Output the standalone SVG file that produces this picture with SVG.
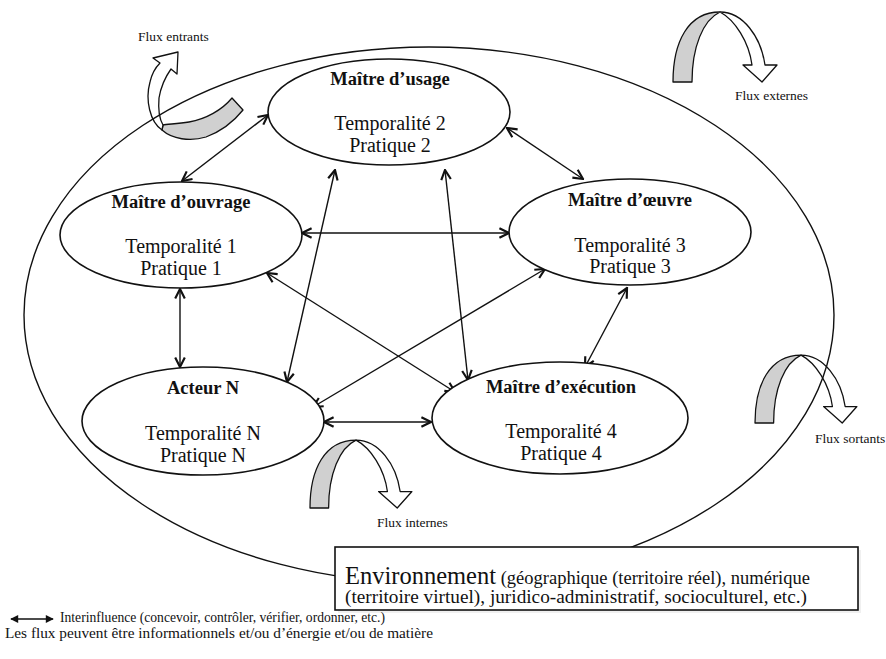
<svg xmlns="http://www.w3.org/2000/svg" xmlns:xlink="http://www.w3.org/1999/xlink" width="886" height="659" viewBox="0 0 886 659">
<defs>
<style>
text{font-family:"Liberation Serif","Times New Roman",serif;fill:#111}
.t{font-size:18.5px;font-weight:bold;text-anchor:middle}
.b{font-size:20px;text-anchor:middle}
.fl{font-size:13.5px}
.node{fill:#fff;stroke:#111;stroke-width:1.6}
.con{stroke:#111;stroke-width:1.4;fill:none;marker-start:url(#ah);marker-end:url(#ah)}
.fw{fill:#fff;stroke:#111;stroke-width:1.3;stroke-linejoin:round}
.fg{fill:#d0d0d0;stroke:#111;stroke-width:1.3;stroke-linejoin:round}
</style>
<marker id="ah" viewBox="0 0 10 10" refX="9" refY="5" markerWidth="12" markerHeight="12" markerUnits="userSpaceOnUse" orient="auto-start-reverse">
<path d="M1,1 L9,5 L1,9" fill="none" stroke="#111" stroke-width="1.8"/>
</marker>
<marker id="lh" viewBox="0 0 10 10" refX="9" refY="5" markerWidth="9" markerHeight="8" markerUnits="userSpaceOnUse" orient="auto-start-reverse">
<path d="M0,0 L10,5 L0,10 Z" fill="#111"/>
</marker>
<g id="uturn">
<path class="fg" d="M0,0 C0,-40 15,-70 47,-70 C30,-62 19,-35 19,0 Z"/>
<path class="fw" d="M47,-70 C70,-70 88,-45 92,-17 L104,-17 L89,0 L70,-17 L79,-17 C76,-40 62,-62 47,-70 Z"/>
</g>
</defs>
<rect width="886" height="659" fill="#fff"/>

<g id="flux">
<g id="flux-entrants">
<path class="fg" d="M162,130 C172,139 190,142 206,137 C222,131 235,120 243,110 L232,98 C222,110 206,119 189,122 C177,124 167,124 163,125 Z"/>
<path class="fw" d="M162,130 C150,122 145,100 150,82 C152,73 156,67 160,63 L153,58 L178,52 L177,74 L171,69 C166,76 161,86 159,98 C158,110 160,120 163,125 Z"/>
<text class="fl" x="138" y="41">Flux entrants</text>
</g>
<g id="flux-externes">
<use xlink:href="#uturn" transform="translate(673,82)"/>
<text class="fl" x="735" y="100">Flux externes</text>
</g>
<g id="flux-sortants">
<use xlink:href="#uturn" transform="translate(755,423) scale(0.98,0.97)"/>
<text class="fl" x="815" y="443">Flux sortants</text>
</g>
<g id="flux-internes">
<use xlink:href="#uturn" transform="translate(310,508) scale(0.98,0.97)"/>
<text class="fl" x="377" y="527">Flux internes</text>
</g>
</g>

<ellipse id="environnement-limite" cx="429" cy="315" rx="405" ry="268" fill="none" stroke="#111" stroke-width="1.4"/>

<g id="connectors">
<line class="con" x1="182" y1="181" x2="268" y2="115"/>
<line class="con" x1="507" y1="128" x2="583" y2="179"/>
<line class="con" x1="302" y1="233" x2="509" y2="233"/>
<line class="con" x1="180" y1="289" x2="180" y2="367"/>
<line class="con" x1="627" y1="288" x2="585" y2="367"/>
<line class="con" x1="324" y1="422" x2="431" y2="422"/>
<line class="con" x1="287" y1="382" x2="335" y2="170"/>
<line class="con" x1="445" y1="170" x2="468" y2="380"/>
<line class="con" x1="267" y1="273" x2="455" y2="392"/>
<line class="con" x1="313" y1="407" x2="545" y2="269"/>
</g>

<g id="maitre-ouvrage">
<ellipse class="node" cx="181" cy="235" rx="121" ry="53"/>
<text class="t" x="181" y="208">Maître d’ouvrage</text>
<text class="b" x="181" y="253">Temporalité 1</text>
<text class="b" x="181" y="275">Pratique 1</text>
</g>
<g id="maitre-usage">
<ellipse class="node" cx="389" cy="112" rx="121" ry="53"/>
<text class="t" x="390" y="85">Maître d’usage</text>
<text class="b" x="390" y="130">Temporalité 2</text>
<text class="b" x="390" y="152">Pratique 2</text>
</g>
<g id="maitre-oeuvre">
<ellipse class="node" cx="630" cy="232" rx="121" ry="53"/>
<text class="t" x="630" y="206">Maître d’œuvre</text>
<text class="b" x="630" y="252">Temporalité 3</text>
<text class="b" x="630" y="273">Pratique 3</text>
</g>
<g id="acteur-n">
<ellipse class="node" cx="203" cy="421" rx="121" ry="54"/>
<text class="t" x="203" y="394">Acteur N</text>
<text class="b" x="203" y="440">Temporalité N</text>
<text class="b" x="203" y="462">Pratique N</text>
</g>
<g id="maitre-execution">
<ellipse class="node" cx="560" cy="418" rx="128" ry="56"/>
<text class="t" x="561" y="393">Maître d’exécution</text>
<text class="b" x="561" y="438">Temporalité 4</text>
<text class="b" x="561" y="460">Pratique 4</text>
</g>

<g id="environnement">
<rect x="338" y="550" width="523" height="63" fill="#e6e6e6" opacity="0.6"/>
<rect x="335" y="547" width="523" height="63" fill="#fff" stroke="#111" stroke-width="1.6"/>
<text x="345" y="584"><tspan font-size="24.5">Environnement</tspan><tspan font-size="18.5"> (géographique (territoire réel), numérique</tspan></text>
<text x="345" y="603" font-size="18.5" textLength="462" lengthAdjust="spacingAndGlyphs">(territoire virtuel), juridico-administratif, socioculturel, etc.)</text>
</g>

<g id="legende">
<line x1="11" y1="619" x2="53" y2="619" stroke="#111" stroke-width="1.4" marker-start="url(#lh)" marker-end="url(#lh)"/>
<text x="60" y="622" font-size="14.5" textLength="325" lengthAdjust="spacingAndGlyphs">Interinfluence (concevoir, contrôler, vérifier, ordonner, etc.)</text>
<text x="5" y="638" font-size="14.5" textLength="428" lengthAdjust="spacingAndGlyphs">Les flux peuvent être  informationnels et/ou d’énergie et/ou de matière</text>
</g>
</svg>
